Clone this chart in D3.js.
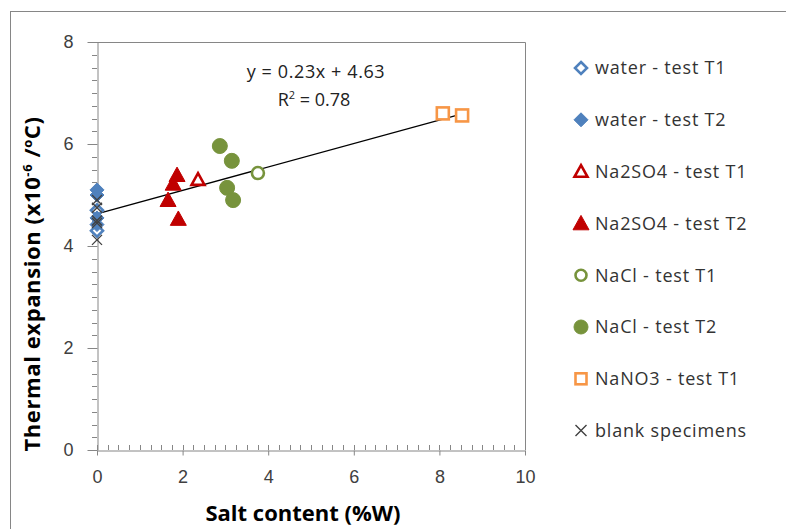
<!DOCTYPE html>
<html>
<head>
<meta charset="utf-8">
<script src="https://cdn.jsdelivr.net/npm/d3@7"></script>
<style>
  body { margin: 0; background: #fff; }
  svg { font-family: "Open Sans", Lato, sans-serif; }
</style>
</head>
<body>
<div class="chart-box"></div>
<script>
// series data: [salt content %W, thermal expansion x10^-6 /oC]
var waterT1 = [[0, 4.3], [0, 4.7]];
var waterT2 = [[0, 5.1], [0, 5.0], [0, 4.55], [0, 4.42]];
var na2so4T1 = [[2.36, 5.3]];
var na2so4T2 = [[1.87, 5.39], [1.78, 5.22], [1.66, 4.9], [1.9, 4.53]];
var naclT1 = [[3.76, 5.43]];
var naclT2 = [[2.87, 5.96], [3.15, 5.67], [3.04, 5.14], [3.18, 4.9]];
var nano3T1 = [[8.08, 6.6], [8.53, 6.56]];
var blank = [[0, 4.9], [0, 4.75], [0, 4.5], [0, 4.45], [0, 4.12]];

var xTicks = [0, 2, 4, 6, 8, 10];
var yTicks = [0, 2, 4, 6, 8];
var trend = { slope: 0.23, intercept: 4.63, r2: 0.78, xMin: 0, xMax: 8.53 };

var series = [
  { name: "water - test T1", data: waterT1, shape: "diamond", color: "#4F81BD", fill: false },
  { name: "water - test T2", data: waterT2, shape: "diamond", color: "#4F81BD", fill: true },
  { name: "Na2SO4 - test T1", data: na2so4T1, shape: "triangle", color: "#C00000", fill: false },
  { name: "Na2SO4 - test T2", data: na2so4T2, shape: "triangle", color: "#C00000", fill: true },
  { name: "NaCl - test T1", data: naclT1, shape: "circle", color: "#77933C", fill: false },
  { name: "NaCl - test T2", data: naclT2, shape: "circle", color: "#77933C", fill: true },
  { name: "NaNO3 - test T1", data: nano3T1, shape: "square", color: "#F79646", fill: false },
  { name: "blank specimens", data: blank, shape: "cross", color: "#404040", fill: false }
];

var width = 786, height = 529;
var plotLeft = 97, plotRight = 525, plotTop = 42, plotBottom = 450;

var svg = d3.select(".chart-box").append("svg")
    .attr("width", width)
    .attr("height", height);

// outer chart frame
svg.append("rect")
    .attr("x", 10.5).attr("y", 11.5)
    .attr("width", 800).attr("height", 540)
    .attr("fill", "none")
    .attr("stroke", "#868686");

var x = d3.scaleLinear().domain([0, 10]).range([plotLeft, plotRight]);
var y = d3.scaleLinear().domain([0, 8]).range([plotBottom, plotTop]);

// plot border (top & right)
svg.append("path")
    .attr("d", "M" + plotLeft + "," + (plotTop + 0.5) + "H" + (plotRight + 0.5) + "V" + plotBottom)
    .attr("fill", "none")
    .attr("stroke", "#868686");

// minor ticks
var xMinor = d3.range(0, 10.01, 0.25).filter(function(v) { return v % 2 !== 0; });
var yMinor = d3.range(0, 8.01, 0.25).filter(function(v) { return v % 2 !== 0; });

svg.append("g").selectAll("line").data(xMinor).enter().append("line")
    .attr("x1", function(d) { return Math.round(x(d)) + 0.5; })
    .attr("x2", function(d) { return Math.round(x(d)) + 0.5; })
    .attr("y1", plotBottom).attr("y2", plotBottom - 5)
    .attr("stroke", "#868686");

svg.append("g").selectAll("line").data(yMinor).enter().append("line")
    .attr("y1", function(d) { return Math.round(y(d)) + 0.5; })
    .attr("y2", function(d) { return Math.round(y(d)) + 0.5; })
    .attr("x1", plotLeft - 5).attr("x2", plotLeft)
    .attr("stroke", "#868686");

// axes
var xAxis = svg.append("g")
    .attr("transform", "translate(0," + (plotBottom + 0.5) + ")")
    .call(d3.axisBottom(x).tickValues(xTicks).tickSize(5).tickPadding(15).tickSizeOuter(0));
svg.append("g").selectAll("line").data(xTicks).enter().append("line")
    .attr("x1", function(d) { return Math.round(x(d)) + 0.5; })
    .attr("x2", function(d) { return Math.round(x(d)) + 0.5; })
    .attr("y1", plotBottom).attr("y2", plotBottom - 5)
    .attr("stroke", "#868686");

var yAxis = svg.append("g")
    .attr("transform", "translate(" + (plotLeft + 0.5) + ",0)")
    .call(d3.axisLeft(y).tickValues(yTicks).tickSize(10).tickPadding(14).tickSizeOuter(0));

[xAxis, yAxis].forEach(function(a) {
  a.select(".domain").attr("stroke", "#868686");
  a.selectAll(".tick line").attr("stroke", "#868686");
  a.selectAll(".tick text")
      .attr("fill", "#404040")
      .style("font-size", "18px");
});

// trendline
svg.append("line")
    .attr("x1", x(trend.xMin))
    .attr("y1", y(trend.intercept + trend.slope * trend.xMin))
    .attr("x2", x(trend.xMax))
    .attr("y2", y(trend.intercept + trend.slope * trend.xMax))
    .attr("stroke", "#000")
    .attr("stroke-width", 1.3);

var eq = svg.append("g").style("font-size", "18px").attr("fill", "#222");
eq.append("text")
    .attr("x", 316).attr("y", 78)
    .attr("text-anchor", "middle")
    .style("letter-spacing", "0.6px")
    .text("y = " + trend.slope + "x + " + trend.intercept);
var r2 = eq.append("text")
    .attr("x", 314).attr("y", 106)
    .attr("text-anchor", "middle");
r2.append("tspan").text("R");
r2.append("tspan").attr("dy", -7).style("font-size", "11px").text("2");
r2.append("tspan").attr("dy", 7).text(" = " + trend.r2);

// marker drawing
function drawMarker(g, s, size) {
  var half = size / 2;
  if (s.shape === "circle") {
    g.append("circle").attr("r", s.fill ? half : half - 1.5);
  } else if (s.shape === "diamond") {
    var h = s.fill ? half : half - 1;
    g.append("path").attr("d", "M0," + (-h) + "L" + h + ",0L0," + h + "L" + (-h) + ",0Z");
  } else if (s.shape === "triangle") {
    var t = s.fill ? half + 1 : half - 0.5;
    g.append("path").attr("d", "M0," + (-t) + "L" + t + "," + (t * 0.8) + "L" + (-t) + "," + (t * 0.8) + "Z");
  } else if (s.shape === "square") {
    var q = half - 1.5;
    g.append("rect").attr("x", -q).attr("y", -q).attr("width", 2 * q).attr("height", 2 * q);
  } else if (s.shape === "cross") {
    var c = half - 1.5;
    g.append("path").attr("d", "M" + (-c) + "," + (-c) + "L" + c + "," + c + "M" + c + "," + (-c) + "L" + (-c) + "," + c);
  }
  g.selectAll("*")
      .attr("fill", s.fill ? s.color : (s.shape === "cross" ? "none" : "#fff"))
      .attr("stroke", s.color)
      .attr("stroke-width", s.fill ? 1 : (s.shape === "cross" ? 1.4 : 2.6));
}

var sizes = { diamond: 14, triangle: 14, circle: 15, square: 15, cross: 13 };

// draw series one after the other
series.forEach(function(s) {
  var g = svg.append("g");
  s.data.forEach(function(p) {
    var m = g.append("g").attr("transform", "translate(" + x(p[0]) + "," + y(p[1]) + ")");
    drawMarker(m, s, sizes[s.shape]);
  });
});

// legend
var legend = svg.append("g");
series.forEach(function(s, i) {
  var ly = 68 + i * 51.8;
  var m = legend.append("g").attr("transform", "translate(581," + ly + ")");
  drawMarker(m, s, 14);
  legend.append("text")
      .attr("x", 595).attr("y", ly)
      .attr("dy", "0.36em")
      .attr("fill", "#333")
      .style("font-size", "18px")
      .style("letter-spacing", "0.8px")
      .text(s.name);
});

// axis titles
svg.append("text")
    .attr("x", 303).attr("y", 521)
    .attr("text-anchor", "middle")
    .attr("fill", "#000")
    .style("font-size", "22px")
    .style("font-weight", "bold")
    .text("Salt content (%W)");

var yt = svg.append("text")
    .attr("transform", "translate(40,284) rotate(-90)")
    .attr("text-anchor", "middle")
    .attr("fill", "#000")
    .style("font-size", "22px")
    .style("font-weight", "bold")
    .style("letter-spacing", "0.6px");
yt.append("tspan").text("Thermal expansion (x10");
yt.append("tspan").attr("dy", -8).style("font-size", "13px").text("-6");
yt.append("tspan").attr("dy", 8).text(" /");
yt.append("tspan").attr("dy", -8).style("font-size", "13px").text("o");
yt.append("tspan").attr("dy", 8).text("C)");
</script>
</body>
</html>
